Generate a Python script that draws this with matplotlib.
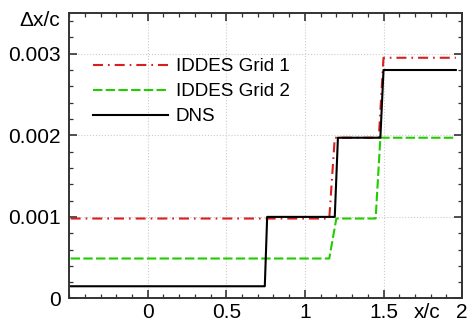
import matplotlib.pyplot as plt
from matplotlib.ticker import MultipleLocator, FixedLocator, FixedFormatter

plt.rcParams['font.family'] = ['Liberation Sans', 'DejaVu Sans']

# grid spacing along the chord
dns_x = [-0.49, 0.745, 0.76, 1.19, 1.21, 1.48, 1.50, 1.96]
dns_y = [0.00015, 0.00015, 0.001, 0.001, 0.00197, 0.00197, 0.0028, 0.0028]
g1_x = [-0.49, 1.155, 1.19, 1.47, 1.50, 1.96]
g1_y = [0.00098, 0.00098, 0.00197, 0.00197, 0.00295, 0.00295]
g2_x = [-0.49, 1.155, 1.20, 1.45, 1.48, 1.96]
g2_y = [0.00049, 0.00049, 0.00098, 0.00098, 0.00197, 0.00197]

xticks = [0, 0.5, 1, 1.5, 2]
xticklabels = ['0', '0.5', '1', '1.5', '2']
yticks = [0, 0.001, 0.002, 0.003]
yticklabels = ['0', '0.001', '0.002', '0.003']

fig = plt.figure(figsize=(4.73, 3.22), dpi=100)
ax = fig.add_axes([0.146, 0.073, 0.831, 0.887])

ax.plot(g1_x, g1_y, color='#d81e1e', lw=1.5, dashes=(4.8, 2.4, 0.8, 2.4), label='IDDES Grid 1')
ax.plot(g2_x, g2_y, color='#22cc00', lw=1.5, dashes=(4.5, 1.6), label='IDDES Grid 2')
ax.plot(dns_x, dns_y, color='black', lw=1.5, label='DNS')

ax.set_xlim(-0.5, 2)
ax.set_ylim(0, 0.0035)
ax.xaxis.set_major_locator(FixedLocator(xticks))
ax.xaxis.set_major_formatter(FixedFormatter(xticklabels))
ax.yaxis.set_major_locator(FixedLocator(yticks))
ax.yaxis.set_major_formatter(FixedFormatter(yticklabels))
ax.xaxis.set_minor_locator(MultipleLocator(0.1))
ax.yaxis.set_minor_locator(MultipleLocator(0.0002))

xpad = 3.5
ax.tick_params(which='both', direction='in', top=True, right=True,
               labelsize=15, color='#333333', pad=6)
ax.tick_params(axis='x', which='major', pad=xpad)
ax.tick_params(which='major', length=6, width=1.2)
ax.tick_params(which='minor', length=3, width=0.9)
for s in ax.spines.values():
    s.set_color('#333333')
    s.set_linewidth(1.4)

ax.grid(True, which='major', color='#cccccc', ls=':', lw=0.8)

ax.annotate('x/c', xy=(1.775, 0), xycoords=ax.get_xaxis_transform(),
            xytext=(0, -xpad), textcoords='offset points',
            ha='center', va='top', fontsize=15)
fig.text(0.127, 1 - 21 / 322, 'Δx/c', ha='right', va='center', fontsize=15)

ax.legend(loc='upper left', bbox_to_anchor=(93 / 473, 1 - 58 / 322),
          bbox_transform=fig.transFigure, frameon=False, fontsize=13.6,
          handlelength=3.97, handletextpad=0.42, labelspacing=0.41,
          borderpad=0, borderaxespad=0)

fig.savefig('out.png', dpi=100)
